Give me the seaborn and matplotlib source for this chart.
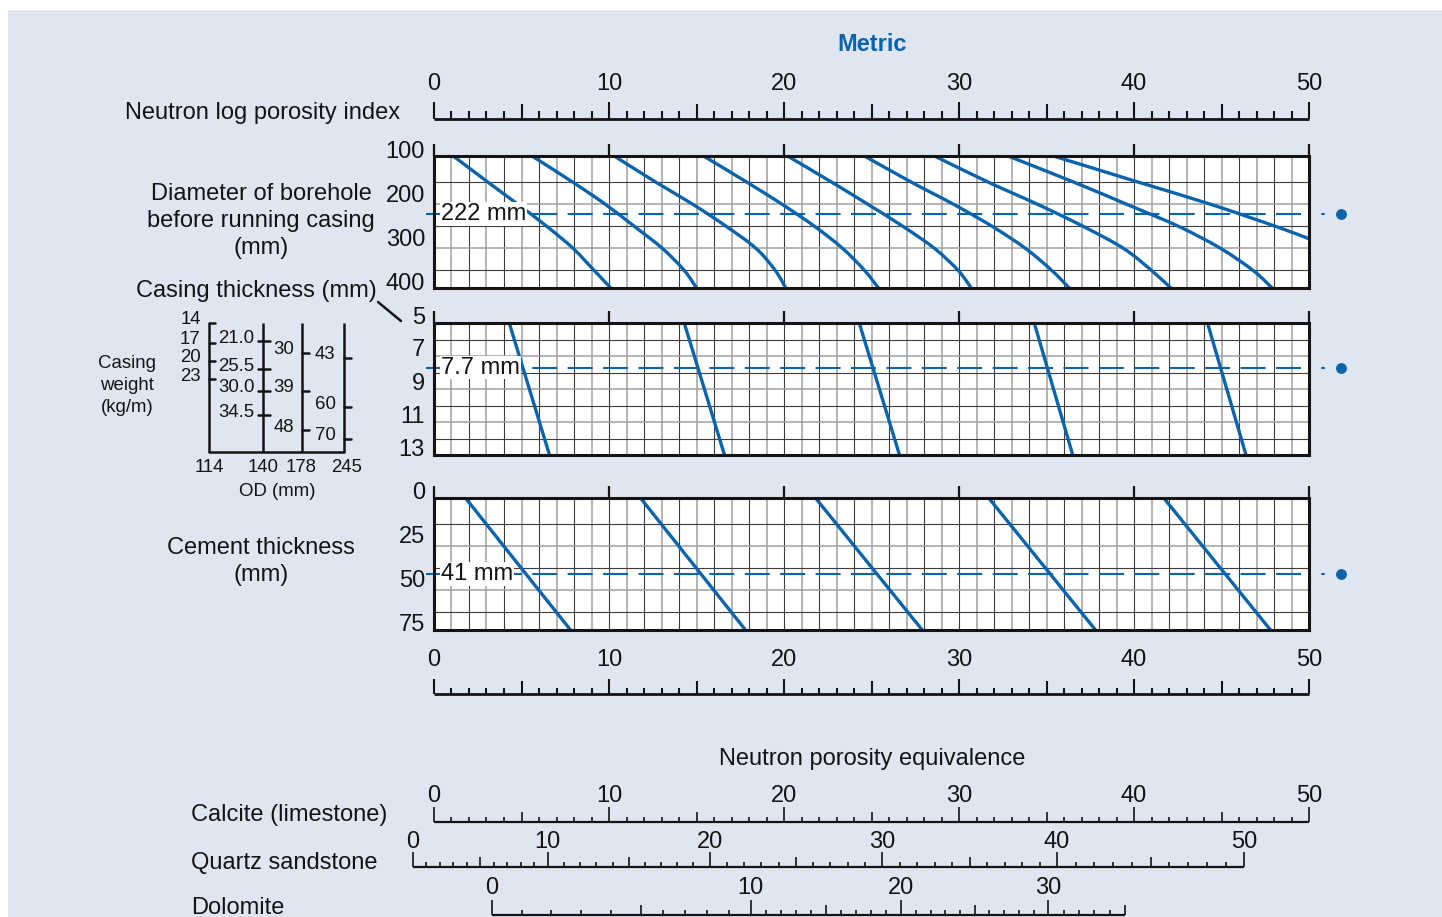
import numpy as np
import pandas as pd
import matplotlib
matplotlib.use("Agg")
import matplotlib.pyplot as plt
import seaborn as sns
from matplotlib.patches import Rectangle, PathPatch
from matplotlib.lines import Line2D
from matplotlib.path import Path

sns.set_theme(style="white")
plt.rcParams["font.family"] = ["Liberation Sans", "DejaVu Sans"]

BLUE = "#0a64ad"
BG = "#dfe6f2"
INK = "#141414"
DARK = "#3c3c3c"
GRAY = "#a0a0a0"
FS = 17
FS_SMALL = 13.4

# ---------------- data ----------------
porosity_major = [0, 10, 20, 30, 40, 50]

# borehole diameter correction curves (porosity index read at each diameter)
bore_diam_mm = [90, 150, 200, 250, 300, 350, 390]
bore_curve_a = [1.1, 3.1, 4.8, 6.45, 7.95, 9.15, 10.1]
bore_curve_b = [5.6, 7.95, 9.8, 11.45, 13.05, 14.3, 15.0]
bore_curve_c = [10.3, 12.7, 14.8, 16.7, 18.4, 19.5, 20.1]
bore_curve_d = [15.4, 17.9, 19.9, 21.75, 23.35, 24.6, 25.4]
bore_curve_e = [20.2, 22.75, 24.8, 26.8, 28.6, 29.95, 30.7]
bore_curve_f = [24.6, 27.3, 29.7, 31.9, 33.8, 35.3, 36.3]
bore_curve_g = [28.6, 31.7, 34.5, 37.1, 39.4, 41.0, 42.1]
bore_curve_h = [32.8, 36.6, 39.6, 42.55, 44.95, 46.8, 47.9]
bore_last_diam = [90, 150, 200, 250, 278]
bore_last_vals = [35.4, 40.3, 44.4, 48.1, 50.0]
bore_example_mm = 222

# casing thickness correction lines
casing_thk_ends = [5, 13]
casing_start = [4.3, 14.3, 24.3, 34.3, 44.2]
casing_end = [6.6, 16.6, 26.6, 36.5, 46.4]
casing_example_mm = 7.7

# cement thickness correction lines
cement_thk_ends = [-2, 73]
cement_start = [1.8, 11.8, 21.8, 31.7, 41.7]
cement_end = [7.8, 17.8, 27.9, 37.8, 47.8]
cement_example_mm = 41

# casing weight (kg/m) -> casing thickness (mm) for each OD
od_labels = ["114", "140", "178", "245"]
cw114_kg = ["14", "17", "20", "23"]
cw114_mm = [5.0, 6.2, 7.3, 8.4]
cw140_kg = ["21.0", "25.5", "30.0", "34.5"]
cw140_mm = [6.1, 7.8, 9.1, 10.6]
cw178_kg = ["30", "39", "48"]
cw178_mm = [6.8, 9.1, 11.5]
cw245_kg = ["43", "60", "70"]
cw245_mm = [7.1, 10.1, 12.0]

# lithology equivalence: scale value -> calcite porosity position
quartz_vals = [0, 10, 20, 30, 40, 50]
quartz_pos = [-1.2, 6.5, 15.75, 25.6, 35.6, 46.3]
dolomite_vals = [0, 5, 10, 20, 30, 35]
dolomite_pos = [3.3, 11.8, 18.1, 26.7, 35.1, 39.5]

# ---------------- layout ----------------
W, H = 1442, 917
XL, XR = 434, 1309
TXT_DY = 1.5  # optical centring of text rows, px
fig = plt.figure(figsize=(W / 100, H / 100), dpi=100)
fig.patch.set_facecolor("white")
fig.add_artist(Rectangle((8 / W, 0), (W - 8) / W, (H - 10) / H,
                         transform=fig.transFigure, facecolor=BG,
                         edgecolor="none", zorder=-10))


def px_axes(x0, y0, x1, y1):
    return fig.add_axes([x0 / W, 1 - y1 / H, (x1 - x0) / W, (y1 - y0) / H])


def ftext(x, y, s, **kw):
    kw.setdefault("fontsize", FS)
    kw.setdefault("color", INK)
    kw.setdefault("va", "center")
    fig.text(x / W, 1 - (y + TXT_DY) / H, s, **kw)


def grid_panel(y0, y1, ylim, hlines, labels, label_up):
    ax = px_axes(XL, y0, XR, y1)
    ax.set_facecolor("white")
    ax.set_xlim(0, 50)
    ax.set_ylim(*ylim)
    for u in range(1, 50):
        dark = u % 2 == 0
        ax.axvline(u, color=DARK if dark else GRAY, lw=0.8 if dark else 1.1, zorder=1)
    for i, h in enumerate(hlines):
        dark = i % 2 == 0
        ax.axhline(h, color=DARK if dark else GRAY, lw=0.8 if dark else 1.1, zorder=1)
    for s in ax.spines.values():
        s.set_linewidth(2.2)
        s.set_color(INK)
        s.set_zorder(8)
    ax.set_xticks([])
    ax.set_yticks([])
    ax.vlines(porosity_major, 1, 1 + 12 / (y1 - y0), transform=ax.get_xaxis_transform(),
              color=INK, lw=1.6, clip_on=False)
    for v in labels:
        ax.annotate(str(v), xy=(0, v), xycoords=("axes fraction", "data"),
                    xytext=(-6.5, (label_up - TXT_DY) * 0.72), textcoords="offset points",
                    ha="right", va="center", fontsize=FS, color=INK, annotation_clip=False)
    return ax


def example_line(ax, val, text):
    ax.plot([-0.45, 50], [val, val], color=BLUE, lw=1.5, dashes=(12, 5),
            clip_on=False, zorder=6)
    ax.plot([50.75, 50.85], [val, val], color=BLUE, lw=1.5, clip_on=False, zorder=6)
    ax.plot([51.83], [val], "o", color=BLUE, ms=6.8, clip_on=False, zorder=6)
    ax.text(0.4, val, text, fontsize=FS, va="center", ha="left", color=INK, zorder=7,
            bbox=dict(facecolor="white", edgecolor="none", pad=0.6))


def draw_lines(ax, df, x, y):
    sns.lineplot(data=df, x=x, y=y, units="curve", estimator=None, sort=False,
                 color=BLUE, lw=2.4, ax=ax, legend=False)
    for ln in ax.lines:
        ln.set_zorder(4)
        ln.set_solid_capstyle("butt")
    ax.set_xlabel("")
    ax.set_ylabel("")


def smooth_curve(ax, xs, ys):
    # Catmull-Rom spline through the read points, drawn as cubic Bezier segments
    P = np.column_stack([xs, ys]).astype(float)
    E = np.vstack([P[0], P, P[-1]])
    verts, codes = [P[0]], [Path.MOVETO]
    for i in range(len(P) - 1):
        p0, p1, p2, p3 = E[i], E[i + 1], E[i + 2], E[i + 3]
        verts += [p1 + (p2 - p0) / 6, p2 - (p3 - p1) / 6, p2]
        codes += [Path.CURVE4] * 3
    ax.add_patch(PathPatch(Path(verts, codes), fill=False, edgecolor=BLUE,
                           lw=2.4, capstyle="butt", zorder=4))


# ---- borehole diameter panel ----
ax1 = grid_panel(156, 288, (390, 90), [150, 200, 250, 300, 350], [100, 200, 300, 400], 10)
bore_sets = [bore_curve_a, bore_curve_b, bore_curve_c, bore_curve_d,
             bore_curve_e, bore_curve_f, bore_curve_g, bore_curve_h]
for vals in bore_sets:
    smooth_curve(ax1, vals, bore_diam_mm)
smooth_curve(ax1, bore_last_vals, bore_last_diam)
ax1.set_xlim(0, 50)
ax1.set_ylim(390, 90)
example_line(ax1, bore_example_mm, "222 mm")

# ---- casing thickness panel ----
ax2 = grid_panel(323, 455, (13, 5), [6, 7, 8, 9, 10, 11, 12], [5, 7, 9, 11, 13], 7)
rows = []
for k, (a, b) in enumerate(zip(casing_start, casing_end)):
    rows += [dict(curve=k, val=a, thk=casing_thk_ends[0]), dict(curve=k, val=b, thk=casing_thk_ends[1])]
draw_lines(ax2, pd.DataFrame(rows), "val", "thk")
ax2.set_xlim(0, 50)
ax2.set_ylim(13, 5)
example_line(ax2, casing_example_mm, "7.7 mm")

# ---- cement thickness panel ----
ax3 = grid_panel(498, 630, (73, -2), [12.5, 25, 37.5, 50, 62.5], [0, 25, 50, 75], 10)
rows = []
for k, (a, b) in enumerate(zip(cement_start, cement_end)):
    rows += [dict(curve=k, val=a, thk=cement_thk_ends[0]), dict(curve=k, val=b, thk=cement_thk_ends[1])]
draw_lines(ax3, pd.DataFrame(rows), "val", "thk")
ax3.set_xlim(0, 50)
ax3.set_ylim(73, -2)
example_line(ax3, cement_example_mm, "41 mm")


# ---- graduated scales ----
def scale_bar(y_line, label_up, values, positions, tall, mid, small, lw, labels_at):
    ax = px_axes(XL, y_line - 50, XR, y_line)
    ax.set_xlim(0, 50)
    ax.set_ylim(0, 50)
    ax.axis("off")
    ax.patch.set_alpha(0)
    ax.plot([positions[0], positions[-1]], [0, 0], color=INK, lw=lw,
            clip_on=False, solid_capstyle="butt")
    for v, p in zip(values, positions):
        h = tall if v % 10 == 0 else (mid if v % 5 == 0 else small)
        ax.plot([p, p], [0, h], color=INK, lw=lw * 0.75, clip_on=False,
                solid_capstyle="butt")
        if v in labels_at:
            ax.text(p, label_up - TXT_DY, str(v), ha="center", va="center",
                    fontsize=FS, color=INK)
    return ax


unit_vals = list(range(0, 51))
scale_bar(119, 37, unit_vals, unit_vals, 17, 15, 8, 2.0, porosity_major)
scale_bar(694, 36, unit_vals, unit_vals, 15, 13, 6, 2.0, porosity_major)
scale_bar(822, 27, unit_vals, unit_vals, 15, 10, 5, 1.6, porosity_major)

q_vals = list(range(0, 51))
scale_bar(867, 27, q_vals, list(np.interp(q_vals, quartz_vals, quartz_pos)),
          15, 10, 5, 1.6, [0, 10, 20, 30, 40, 50])
d_vals = list(range(0, 36))
scale_bar(915, 28, d_vals, list(np.interp(d_vals, dolomite_vals, dolomite_pos)),
          15, 10, 5, 1.6, [0, 10, 20, 30])

# ---- casing weight chart (shares the casing thickness scale) ----
axw = px_axes(170, 323, 380, 455)
axw.set_xlim(170, 380)
axw.set_ylim(13, 5)
axw.axis("off")
axw.patch.set_alpha(0)
od_x = [209, 263, 302, 344]
bottom_mm = 12.8
for x in od_x:
    axw.plot([x, x], [5.0, bottom_mm], color=INK, lw=1.8, solid_capstyle="butt", clip_on=False)
axw.plot([od_x[0], od_x[-1]], [bottom_mm, bottom_mm], color=INK, lw=1.8, clip_on=False)
weight_sets = [(cw114_kg, cw114_mm, 0, 6), (cw140_kg, cw140_mm, 5, 7),
               (cw178_kg, cw178_mm, 0, 7), (cw245_kg, cw245_mm, 0, 7)]
for x, (kgs, mms, left, right) in zip(od_x, weight_sets):
    for kg, mm in zip(kgs, mms):
        axw.plot([x - left, x + right], [mm, mm], color=INK, lw=1.8, clip_on=False)
        axw.annotate(kg, xy=(x, mm), xytext=(-6, 3 * 0.72), textcoords="offset points",
                     ha="right", va="center", fontsize=FS_SMALL, color=INK)
for x, lab in zip([209, 263, 301, 347], od_labels):
    ftext(x, 466, lab, ha="center", fontsize=FS_SMALL)
ftext(277, 490, "OD (mm)", ha="center", fontsize=FS_SMALL)
for y, s in zip([362, 384, 406], ["Casing", "weight", "(kg/m)"]):
    ftext(127, y, s, ha="center", fontsize=FS_SMALL)

# ---- titles and labels ----
ftext(872, 43, "Metric", ha="center", color=BLUE, fontweight="bold")
ftext(400, 111, "Neutron log porosity index", ha="right")
for y, s in zip([193, 219, 246], ["Diameter of borehole", "before running casing", "(mm)"]):
    ftext(261, y, s, ha="center")
ftext(256, 290, "Casing thickness (mm)", ha="center")
ftext(261, 547, "Cement thickness", ha="center")
ftext(261, 574, "(mm)", ha="center")
ftext(872, 758, "Neutron porosity equivalence", ha="center")
ftext(191, 814, "Calcite (limestone)", ha="left")
ftext(191, 861, "Quartz sandstone", ha="left")
ftext(191, 906, "Dolomite", ha="left")
fig.add_artist(Line2D([378 / W, 401 / W], [1 - 302 / H, 1 - 321 / H],
                      transform=fig.transFigure, color=INK, lw=1.8))

fig.savefig("out.png", dpi=100, facecolor=fig.get_facecolor())
